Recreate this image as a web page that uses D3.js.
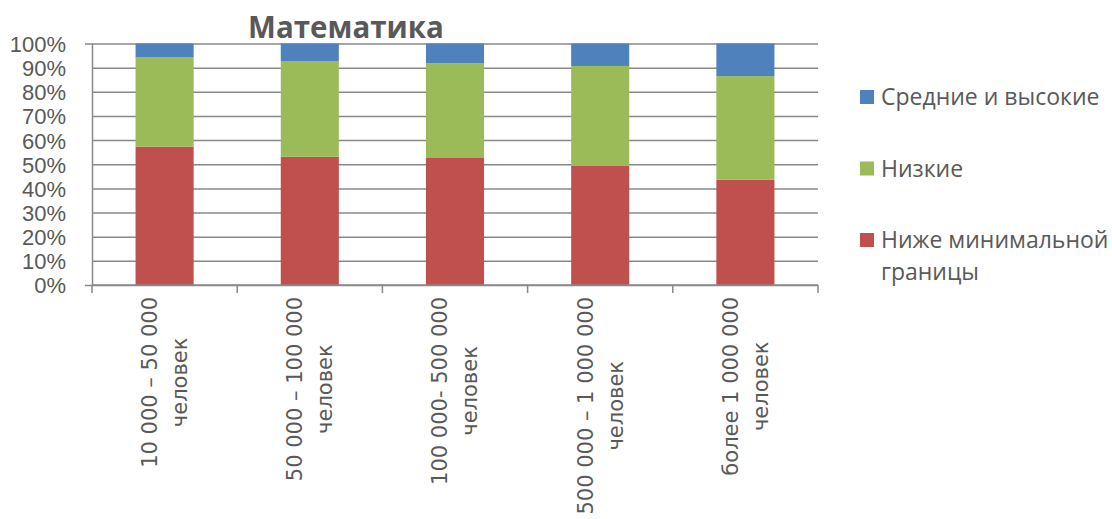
<!DOCTYPE html>
<html>
<head>
<meta charset="utf-8">
<script src="https://cdn.jsdelivr.net/npm/d3@7"></script>
<style>
  body { margin: 0; background: #fff; }
  svg { display: block; font-family: "Open Sans", sans-serif; }
</style>
</head>
<body>
<svg></svg>
<script>
const width = 1112;
const height = 519;
const margin = { top: 43.5, right: 294, bottom: 234, left: 92 };

// Данные
const categories = [
  ["10 000 – 50 000", "человек"],
  ["50 000 – 100 000", "человек"],
  ["100 000- 500 000", "человек"],
  ["500 000 – 1 000 000", "человек"],
  ["более 1 000 000", "человек"]
];
const seriesNames = ["Ниже минимальной границы", "Низкие", "Средние и высокие"];
const below = [57.3, 53.1, 52.6, 49.4, 43.6];
const low = [37.1, 39.5, 39.2, 41.3, 42.9];
const high = [5.6, 7.4, 8.2, 9.3, 13.5];
const yTicks = [0, 10, 20, 30, 40, 50, 60, 70, 80, 90, 100];

const colors = { "Ниже минимальной границы": "#C0504D", "Низкие": "#9BBB59", "Средние и высокие": "#4F81BD" };
const gray = "#888888";
const textColor = "#595959";

const svg = d3.select("svg")
  .attr("width", width)
  .attr("height", height);

const table = categories.map((c, i) => ({
  key: i,
  "Ниже минимальной границы": below[i],
  "Низкие": low[i],
  "Средние и высокие": high[i]
}));

const stack = d3.stack().keys(seriesNames).offset(d3.stackOffsetExpand);
const stacked = stack(table);

const plotW = width - margin.left - margin.right;
const x = d3.scaleBand()
  .domain(table.map(d => d.key))
  .range([margin.left, width - margin.right])
  .padding(0);

const y = d3.scaleLinear()
  .domain([0, 1])
  .range([height - margin.bottom, margin.top]);

// Ось Y + сетка
svg.append("g")
  .attr("transform", `translate(${margin.left},0)`)
  .call(d3.axisLeft(y)
    .tickValues(yTicks.map(v => v / 100))
    .tickFormat(d3.format(".0%"))
    .tickSize(7)
    .tickPadding(19))
  .call(g => g.select(".domain").attr("stroke", gray).attr("stroke-width", 1.5))
  .call(g => g.selectAll(".tick line").attr("x2", plotW).attr("stroke", gray).attr("stroke-width", 1.5))
  .call(g => g.selectAll(".tick text")
    .attr("fill", textColor)
    .style("font-size", "22px")
    .attr("dy", "0.36em"));

// Столбцы
const barW = x.bandwidth() * 0.4;
svg.append("g")
  .selectAll("g")
  .data(stacked)
  .join("g")
  .attr("fill", d => colors[d.key])
  .selectAll("rect")
  .data(d => d)
  .join("rect")
  .attr("x", d => x(d.data.key) + (x.bandwidth() - barW) / 2)
  .attr("y", d => y(d[1]))
  .attr("width", barW)
  .attr("height", d => y(d[0]) - y(d[1]));

// Ось X
const xAxisY = height - margin.bottom;
const bounds = table.map(d => x(d.key)).concat([width - margin.right]);
const xg = svg.append("g");
xg.append("line")
  .attr("x1", margin.left).attr("x2", width - margin.right)
  .attr("y1", xAxisY).attr("y2", xAxisY)
  .attr("stroke", gray).attr("stroke-width", 1.5);
xg.selectAll("line.tick")
  .data(bounds)
  .join("line")
  .attr("class", "tick")
  .attr("x1", d => d).attr("x2", d => d)
  .attr("y1", xAxisY).attr("y2", xAxisY + 8)
  .attr("stroke", gray).attr("stroke-width", 1.5);

// Подписи категорий (повёрнутые)
const labels = svg.append("g")
  .selectAll("g")
  .data(categories)
  .join("g")
  .attr("transform", (d, i) => `translate(${x(i) + x.bandwidth() / 2},${xAxisY + 12}) rotate(-90)`);

labels.each(function(lines) {
  const g = d3.select(this);
  const texts = g.selectAll("text")
    .data(lines)
    .join("text")
    .attr("y", (d, j) => (j - (lines.length - 1) / 2) * 30)
    .attr("dy", "0.35em")
    .attr("text-anchor", "middle")
    .attr("fill", textColor)
    .style("font-family", "'DejaVu Sans', sans-serif")
    .style("font-size", "21px")
    .text(d => d);
  const maxLen = d3.max(texts.nodes(), n => n.getComputedTextLength());
  texts.attr("x", -maxLen / 2);
});

// Легенда
const legendItems = [
  { name: "Средние и высокие", lines: ["Средние и высокие"] },
  { name: "Низкие", lines: ["Низкие"] },
  { name: "Ниже минимальной границы", lines: ["Ниже минимальной", "границы"] }
];
const legend = svg.append("g")
  .selectAll("g")
  .data(legendItems)
  .join("g")
  .attr("transform", (d, i) => `translate(860,${97 + i * 71.5})`);

legend.append("rect")
  .attr("x", 0).attr("y", -7)
  .attr("width", 14).attr("height", 14)
  .attr("fill", d => colors[d.name]);

legend.append("text")
  .attr("fill", textColor)
  .style("font-size", "23px")
  .selectAll("tspan")
  .data(d => d.lines)
  .join("tspan")
  .attr("x", 21)
  .attr("y", (d, j) => j * 32)
  .attr("dy", "0.36em")
  .text(d => d);

// Заголовок
svg.append("text")
  .attr("x", 346)
  .attr("y", 38)
  .attr("text-anchor", "middle")
  .attr("fill", textColor)
  .style("font-size", "29.5px")
  .style("font-weight", "bold")
  .text("Математика");
</script>
</body>
</html>
